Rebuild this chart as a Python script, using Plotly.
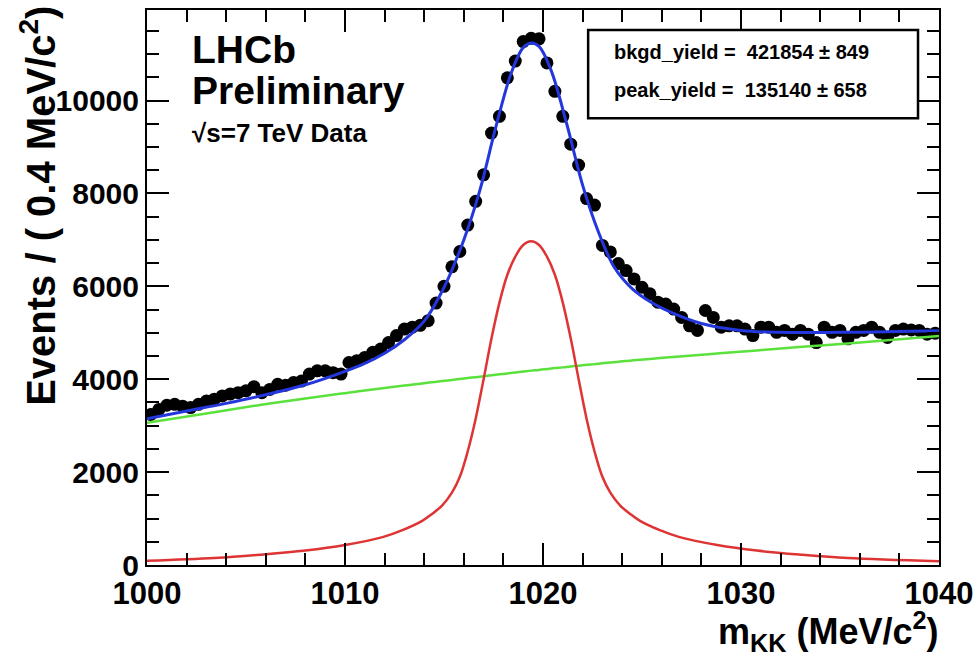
import numpy as np
import plotly.graph_objects as go

# binning: 0.4 MeV bins from 1000 to 1040
bin_lo = 1000.0
bin_w = 0.4
n_bins = 100
mass = np.round(bin_lo + bin_w / 2 + bin_w * np.arange(n_bins), 2)

# events per bin
events = [
    3240, 3350, 3440, 3460, 3420, 3390, 3460, 3530, 3570, 3640,
    3680, 3710, 3750, 3840, 3710, 3780, 3890, 3870, 3930, 3960,
    4110, 4180, 4180, 4140, 4110, 4360, 4400, 4470, 4580, 4650,
    4790, 4940, 5080, 5120, 5160, 5260, 5640, 6000, 6420, 6750,
    7320, 7830, 8400, 9300, 9660, 10490, 10850, 11270, 11340, 11330,
    10810, 10200, 9660, 9060, 8610, 7890, 7750, 6880, 6740, 6490,
    6340, 6160, 5980, 5840, 5660, 5620, 5510, 5330, 5150, 5050,
    5480, 5330, 5120, 5150, 5150, 5080, 4940, 5120, 5120, 5010,
    5050, 4970, 5050, 4970, 4790, 5120, 5010, 5050, 4870, 5010,
    5050, 5120, 5010, 4900, 5050, 5080, 5060, 5050, 4970, 4990,
]

# component curves (background, peak), read at selected masses
comp_mass = [1000, 1003.4, 1005.7, 1008.0, 1010.0, 1011.9, 1012.9, 1013.9, 1014.4, 1014.9,
             1015.4, 1015.8, 1016.2, 1016.6, 1017.0, 1017.4, 1017.8, 1018.2, 1018.6, 1019.0,
             1019.4, 1019.8, 1020.2, 1020.6, 1021.0, 1021.4, 1021.8, 1022.2, 1022.6, 1023.0,
             1023.4, 1023.9, 1024.4, 1024.9, 1025.9, 1026.9, 1028.8, 1030.8, 1033.1, 1035.4,
             1040.0]
bkgd_curve = [3060, 3290, 3445, 3585, 3700, 3805, 3858, 3910, 3935, 3960,
              3985, 4005, 4025, 4045, 4065, 4085, 4105, 4125, 4145, 4165,
              4185, 4200, 4220, 4240, 4255, 4275, 4290, 4310, 4325, 4345,
              4360, 4380, 4400, 4420, 4455, 4490, 4555, 4620, 4700, 4770,
              4930]
peak_curve = [90, 150, 220, 310, 430, 600, 750, 950, 1100, 1280,
              1560, 1900, 2450, 3150, 4000, 4880, 5650, 6250, 6640, 6890,
              6970, 6890, 6640, 6250, 5650, 4880, 4000, 3150, 2450, 1900,
              1560, 1280, 1100, 950, 750, 600, 430, 310, 220, 150,
              80]

# total fit curve
total_mass = [1000, 1002, 1004, 1006, 1008, 1010, 1011, 1012, 1013, 1014,
              1015, 1016, 1016.8, 1017.6, 1018.4, 1019.0, 1019.4, 1019.8, 1020.4, 1021.2,
              1022.0, 1022.8, 1023.6, 1024.5, 1025.5, 1026.5, 1028, 1030, 1032, 1035,
              1038, 1040]
total_curve = [3150, 3315, 3480, 3665, 3880, 4170, 4340, 4560, 4850, 5250,
               5975, 7000, 8050, 9400, 10600, 11140, 11240, 11165, 10660, 9495,
               8180, 7170, 6410, 5950, 5645, 5435, 5200, 5050, 5010, 5010,
               5025, 5045]

FONT = "Liberation Sans"

fig = go.Figure()
fig.add_trace(go.Scatter(x=mass, y=events, mode="markers",
                         marker=dict(color="black", size=13), showlegend=False))
fig.add_trace(go.Scatter(x=comp_mass, y=bkgd_curve, mode="lines", line_shape="spline",
                         line=dict(color="rgb(90,225,60)", width=2.5), showlegend=False))
fig.add_trace(go.Scatter(x=comp_mass, y=peak_curve, mode="lines", line_shape="spline",
                         line=dict(color="rgb(222,52,52)", width=2.5), showlegend=False))
fig.add_trace(go.Scatter(x=total_mass, y=total_curve, mode="lines", line_shape="spline",
                         line=dict(color="rgb(35,55,220)", width=3), showlegend=False))

axis_common = dict(showline=True, linecolor="black", linewidth=2, mirror="ticks",
                   ticks="inside", tickwidth=2, tickcolor="black", showgrid=False,
                   zeroline=False, automargin=False, ticklen=22, tickformat="d")

fig.update_xaxes(range=[1000, 1040], dtick=10,
                 tickfont=dict(family=FONT, size=31, color="black", weight="bold"),
                 minor=dict(ticks="inside", dtick=2, ticklen=12, tickwidth=2,
                            tickcolor="black"),
                 **axis_common)
fig.update_yaxes(range=[0, 11950], dtick=2000,
                 tickfont=dict(family=FONT, size=30, color="black", weight="bold"),
                 minor=dict(ticks="inside", dtick=500, ticklen=12, tickwidth=2,
                            tickcolor="black"),
                 **axis_common)

labels = [
    ("LHCb", 0.928, 39),
    ("Preliminary", 0.855, 39),
    ("√s=7 TeV Data", 0.778, 26),
]
for txt, ypos, size in labels:
    fig.add_annotation(xref="paper", yref="paper", xanchor="left", yanchor="middle",
                       showarrow=False, x=0.055, y=ypos, text=txt, borderpad=0,
                       font=dict(family=FONT, size=size, color="black", weight="bold"))

# fit result box
fig.add_shape(type="rect", xref="paper", yref="paper",
              x0=0.557, x1=0.9735, y0=0.805, y1=0.964,
              line=dict(color="black", width=2.5), fillcolor="white")
fig.add_annotation(xref="paper", yref="paper", x=0.587, y=0.924, xanchor="left",
                   yanchor="middle", showarrow=False,
                   text="bkgd_yield =  421854 ± 849",
                   font=dict(family=FONT, size=20, color="black", weight="bold"))
fig.add_annotation(xref="paper", yref="paper", x=0.587, y=0.856, xanchor="left",
                   yanchor="middle", showarrow=False,
                   text="peak_yield =  135140 ± 658",
                   font=dict(family=FONT, size=20, color="black", weight="bold"))

# axis titles
fig.add_annotation(xref="paper", yref="paper", x=-0.137, y=1.012, xanchor="center",
                   yanchor="top", textangle=-90, showarrow=False,
                   text="Events / ( 0.4 MeV/c<sup>2</sup>)",
                   font=dict(family=FONT, size=40, color="black", weight="bold"))
fig.add_annotation(xref="paper", yref="paper", x=1.0, y=-0.119, xanchor="right",
                   yanchor="middle", showarrow=False, borderpad=0,
                   text="m<sub>KK</sub> (MeV/c<sup>2</sup>)",
                   font=dict(family=FONT, size=36, color="black", weight="bold"))

fig.update_layout(width=978, height=659, paper_bgcolor="white", plot_bgcolor="white",
                  margin=dict(l=147, r=39, t=10, b=94), showlegend=False)

# drop the default page margin so the figure sits at the window's corner
fig.write_html("out.html", config={"displayModeBar": False},
               post_script="document.body.style.margin='0';")
